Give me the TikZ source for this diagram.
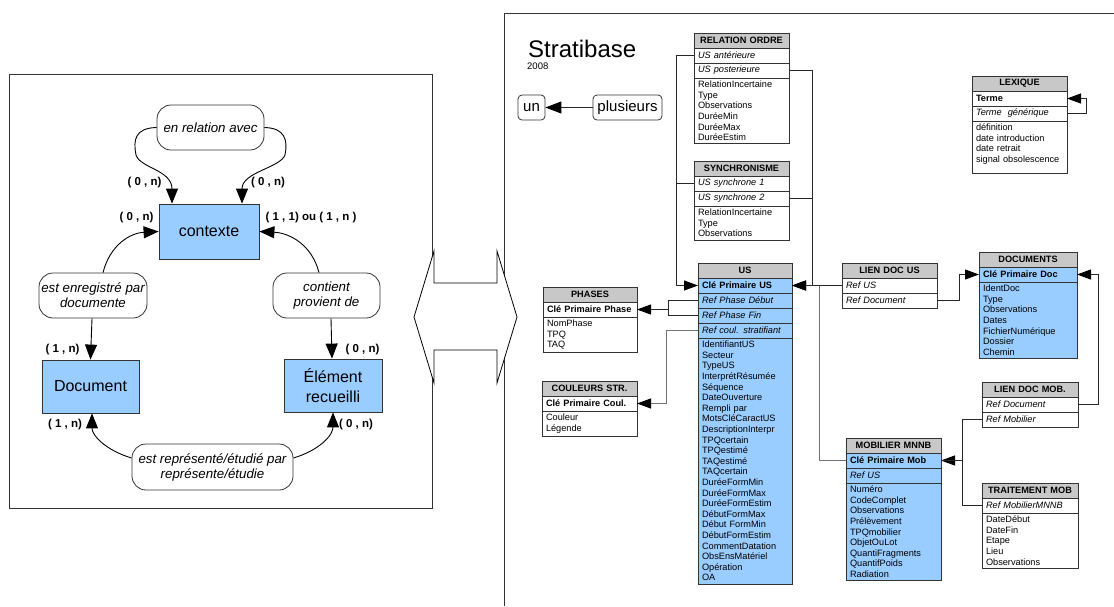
\documentclass[tikz,border=0pt]{standalone}
\usepackage{fontspec}
\setmainfont{Liberation Sans}
\usetikzlibrary{arrows.meta,calc}
\definecolor{bluefill}{HTML}{99CCFF}
\definecolor{hdrgray}{HTML}{C8C8C8}
\definecolor{edgecol}{HTML}{333333}
\newcommand\tf{\fontsize{9.2}{10.6}\selectfont}
\tikzset{
  tbl/.style={draw=edgecol, line width=0.9pt, anchor=north west, inner xsep=4pt, inner ysep=0pt, outer sep=0pt},
  hdr/.style={tbl, fill=hdrgray, minimum height=15pt, align=center, font=\tf\bfseries},
  kb/.style={tbl, minimum height=15pt, align=left, font=\tf\bfseries},
  ki/.style={tbl, minimum height=15pt, align=left, font=\tf\itshape},
  bodyrow/.style={tbl, align=left, inner ysep=3pt, font=\tf},
  blue/.style={fill=bluefill},
  conn/.style={draw=black!85, line width=0.9pt},
  connlight/.style={draw=black!55, line width=0.9pt},
  tip/.style={-{Triangle[length=14pt,width=10pt,color=black]}},
  bigtip/.style={-{Triangle[length=15pt,width=12pt]}},
  entity/.style={draw=edgecol, line width=0.8pt, fill=bluefill, font=\fontsize{16}{20}\selectfont, align=center},
  relation/.style={draw=edgecol, line width=0.8pt, fill=white, rounded corners=14pt, font=\fontsize{13.3}{15}\selectfont\itshape, align=center, inner xsep=1pt},
  card/.style={font=\fontsize{11.5}{13}\selectfont\bfseries},
  rel/.style={draw=black, line width=0.9pt},
  small/.style={draw=edgecol, line width=0.8pt, rounded corners=4pt, font=\fontsize{15}{18}\selectfont, inner sep=0pt}
}
\begin{document}
\begin{tikzpicture}[x=1pt,y=-1pt]
\useasboundingbox[fill=white] (0,0) rectangle (1114,606);

% ---------------- left panel ----------------
\draw[draw=edgecol, line width=0.9pt] (9,74) rectangle (432,508);

\node[entity, minimum width=100pt, minimum height=55pt] (ctx) at (209,231.5) {contexte};
\node[entity, minimum width=97pt, minimum height=53pt] (doc) at (90.5,386.5) {Document};
\node[entity, minimum width=98pt, minimum height=53pt] (elt) at (333,385.5) {Élément\\recueilli};

\node[relation, minimum width=107pt, minimum height=45pt] (r1) at (210.5,127.5) {en relation avec};
\node[relation, minimum width=108pt, minimum height=45pt] (r2) at (93,295.5) {est enregistré par\\documente};
\node[relation, minimum width=107pt, minimum height=45pt] (r3) at (326.5,295.5) {contient\\provient de};
\node[relation, minimum width=161pt, minimum height=46pt] (r4) at (212.5,467) {est représenté/étudié par\\représente/étudie};

\draw[rel, bigtip] (r1.west) .. controls (135,128) and (133,140) .. (136,155)
   .. controls (140,168) and (172,170) .. ($(ctx.north)+(-37,0)$);
\draw[rel, bigtip] (r1.east) .. controls (285,128) and (288,140) .. (285,155)
   .. controls (280,168) and (242,172) .. ($(ctx.north)+(33,0)$);
\draw[rel, bigtip] ($(r2.north)+(10,0)$) .. controls (110,245) and (130,233) .. (ctx.west);
\draw[rel, bigtip] ($(r3.north)+(-7.5,0)$) .. controls (312,245) and (290,233) .. (ctx.east);
\draw[rel, bigtip] ($(r2.south)+(-1,0)$) -- (doc.north);
\draw[rel, bigtip] ($(r3.south)+(4.5,0)$) -- ($(elt.north)+(-1,0)$);
\draw[rel, bigtip] ($(r4.west)+(0,-9)$) .. controls (105,450) and (92,435) .. ($(doc.south)+(1.5,0)$);
\draw[rel, bigtip] ($(r4.east)+(0,-9)$) .. controls (320,450) and (333,435) .. (elt.south);

\node[card] (c1) at (144.5,183) {( 0 , n)};
\node[card] (c2) at (268,183) {( 0 , n)};
\node[card] (c3) at (136.5,218) {( 0 , n)};
\node[card] (c4) at (311,218) {( 1 , 1) ou ( 1 , n )};
\node[card] (c5) at (62.5,350) {( 1 , n)};
\node[card] (c6) at (362.5,350) {( 0 , n)};
\node[card] (c7) at (65,425) {( 1 , n)};
\node[card] (c8) at (356,425) {( 0 , n)};

% ---------------- right panel frame ----------------
\draw[draw=edgecol, line width=0.9pt] (504,606) -- (504,13) -- (1114,13);

% double arrow between panels
\draw[draw=black, line width=0.8pt, fill=white] (414,317) -- (434,251) -- (434,283) -- (497,283) -- (497,251)
   -- (517,317) -- (497,383) -- (497,350) -- (434,350) -- (434,383) -- cycle;

\node[anchor=base west, inner sep=0pt, font=\fontsize{24}{27}\selectfont] (title) at (528,57) {Stratibase};
\node[anchor=base west, inner sep=0pt, font=\fontsize{9.5}{11}\selectfont] (year) at (527,69) {2008};

\node[small, minimum width=27pt, minimum height=25pt] (un) at (531.5,107.5) {un};
\node[small, minimum width=69pt, minimum height=25pt] (plus) at (627.5,107.5) {plusieurs};
\draw[conn, -{Triangle[length=16pt,width=12pt,color=black]}] (plus.west) -- (un.east);

% RELATION ORDRE
\node[hdr, text width=87pt] (roH) at (694,33) {RELATION ORDRE};
\node[ki, text width=87pt] (roA) at (roH.south west) {US antérieure};
\node[ki, text width=87pt] (roB) at (roA.south west) {US posterieure};
\node[bodyrow, text width=87pt] (roC) at (roB.south west) {RelationIncertaine\\Type\\Observations\\DuréeMin\\DuréeMax\\DuréeEstim};

% SYNCHRONISME
\node[hdr, text width=87pt] (syH) at (694,161) {SYNCHRONISME};
\node[ki, text width=87pt] (syA) at (syH.south west) {US synchrone 1};
\node[ki, text width=87pt] (syB) at (syA.south west) {US synchrone 2};
\node[bodyrow, text width=87pt] (syC) at (syB.south west) {RelationIncertaine\\Type\\Observations};

% US
\node[hdr, text width=86pt] (usH) at (698,263) {US};
\node[kb, blue, text width=86pt] (usK) at (usH.south west) {Clé Primaire US};
\node[ki, blue, text width=86pt] (usB) at (usK.south west) {Ref Phase Début};
\node[ki, blue, text width=86pt] (usC) at (usB.south west) {Ref Phase Fin};
\node[ki, blue, text width=86pt] (usD) at (usC.south west) {Ref coul. stratifiant};
\node[bodyrow, blue, text width=86pt] (usE) at (usD.south west) {IdentifiantUS\\Secteur\\TypeUS\\InterprétRésumée\\Séquence\\DateOuverture\\Rempli par\\MotsCléCaractUS\\DescriptionInterpr\\TPQcertain\\TPQestimé\\TAQestimé\\TAQcertain\\DuréeFormMin\\DuréeFormMax\\DuréeFormEstim\\DébutFormMax\\Début FormMin\\DébutFormEstim\\CommentDatation\\ObsEnsMatériel\\Opération\\OA};

% PHASES
\node[hdr, text width=86pt] (phH) at (543,287) {PHASES};
\node[kb, text width=86pt] (phK) at (phH.south west) {Clé Primaire Phase};
\node[bodyrow, text width=86pt] (phC) at (phK.south west) {NomPhase\\TPQ\\TAQ};

% COULEURS STR.
\node[hdr, text width=87pt] (coH) at (542,381) {COULEURS STR.};
\node[kb, text width=87pt] (coK) at (coH.south west) {Clé Primaire Coul.};
\node[bodyrow, text width=87pt] (coC) at (coK.south west) {Couleur\\Légende};

% LIEN DOC US
\node[hdr, text width=87pt] (ldH) at (842,263) {LIEN DOC US};
\node[ki, text width=87pt] (ldA) at (ldH.south west) {Ref US};
\node[ki, text width=87pt] (ldB) at (ldA.south west) {Ref Document};

% DOCUMENTS
\node[hdr, text width=90pt] (dcH) at (979,252) {DOCUMENTS};
\node[kb, blue, text width=90pt] (dcK) at (dcH.south west) {Clé Primaire Doc};
\node[bodyrow, blue, text width=90pt] (dcC) at (dcK.south west) {IdentDoc\\Type\\Observations\\Dates\\FichierNumérique\\Dossier\\Chemin};

% LIEN DOC MOB.
\node[hdr, text width=88pt] (lmH) at (982,382) {LIEN DOC MOB.};
\node[ki, text width=88pt] (lmA) at (lmH.south west) {Ref Document};
\node[ki, text width=88pt] (lmB) at (lmA.south west) {Ref Mobilier};

% MOBILIER MNNB
\node[hdr, text width=87pt] (mbH) at (846,438) {MOBILIER MNNB};
\node[kb, blue, text width=87pt] (mbK) at (mbH.south west) {Clé Primaire Mob};
\node[ki, blue, text width=87pt] (mbB) at (mbK.south west) {Ref US};
\node[bodyrow, blue, text width=87pt] (mbC) at (mbB.south west) {Numéro\\CodeComplet\\Observations\\Prélèvement\\TPQmobilier\\ObjetOuLot\\QuantiFragments\\QuantifPoids\\Radiation};

% TRAITEMENT MOB
\node[hdr, text width=88pt] (trH) at (982,483) {TRAITEMENT MOB};
\node[ki, text width=88pt] (trA) at (trH.south west) {Ref MobilierMNNB};
\node[bodyrow, text width=88pt] (trC) at (trA.south west) {DateDébut\\DateFin\\Etape\\Lieu\\Observations};

% LEXIQUE
\node[hdr, text width=87pt] (lxH) at (972,76) {LEXIQUE};
\node[kb, text width=87pt] (lxA) at (lxH.south west) {Terme};
\node[ki, text width=87pt] (lxB) at (lxA.south west) {Terme~ générique};
\node[bodyrow, text width=87pt] (lxC) at (lxB.south west) {définition\\date introduction\\date retrait\\signal obsolescence\\[-3pt]~};

% ---------------- connectors ----------------
\draw[conn, tip] (roA.west) -- ++(-18,0) |- (usK.west);
\draw[conn] (syA.west) -- ++(-18,0);
\draw[conn, tip] (roB.east) -- ++(23,0) |- (usK.east);
\draw[conn] (syB.east) -- ++(23,0);
\draw[conn, tip] (ldA.west) -- (usK.east);
\draw[connlight] ($(usK.east)+(27,0)$) |- (mbK.west);

\draw[conn, tip] (ldB.east) -- ++(22,0) |- (dcK.west);
\draw[conn, tip] (lmA.east) -- ++(20,0) |- (dcK.east);
\draw[conn, tip] (lmB.west) -- ++(-20,0) |- (mbK.east);
\draw[conn] (trA.west) -- ++(-20,0) |- (mbK.east);

\coordinate (phj) at ($(usB.west)+(-30,0)$);
\draw[conn] (usB.west) -- (phj) |- (usC.west);
\draw[conn, tip] (phj |- phK.east) -- (phK.east);
\draw[connlight, tip] (usD.west) -- ++(-32,0) |- (coK.east);

\draw[conn, tip] (lxB.east) -- ++(19,0) |- (lxA.east);
\end{tikzpicture}
\end{document}
